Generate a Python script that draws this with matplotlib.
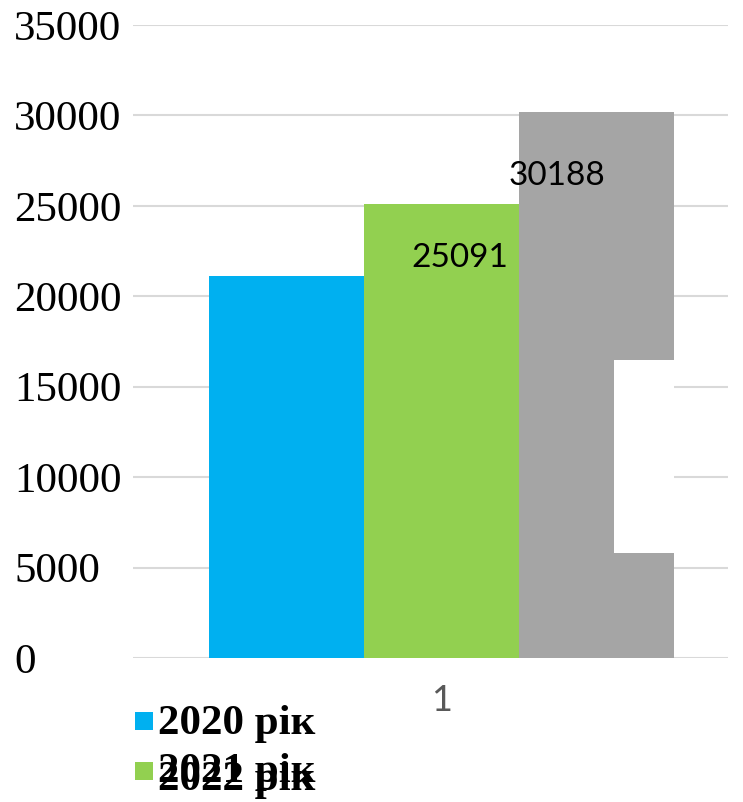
import matplotlib
matplotlib.use('Agg')
import matplotlib.pyplot as plt
from matplotlib.patches import Rectangle

# ---- data ----
categories = ['1']
series_names = ['2020 рік', '2021 рік', '2022 рік']
values = [21100, 25091, 30188]
value_labels = [None, '25091', '30188']
colors = ['#00B0F0', '#92D050', '#A5A5A5']
yticks = [0, 5000, 10000, 15000, 20000, 25000, 30000, 35000]
# white occluding box over the grey bar (value range)
occluder_range = (5800, 16470)

# ---- layout ----
W, H, DPI = 743, 802, 100
fig = plt.figure(figsize=(W / DPI, H / DPI), dpi=DPI)
ax = fig.add_axes([133 / W, 1 - 658 / H, (728 - 133) / W, (658 - 25) / H])

offsets = [-1, 0, 1]
bw = 1.0
bars = []
for off, v, c in zip(offsets, values, colors):
    b = ax.bar(off, v, width=bw, color=c, zorder=2)
    bars.append(b[0])

ax.set_xlim(-1.994, 1.852)
ax.set_ylim(0, 35000)
ax.set_yticks(yticks)
ax.set_yticklabels([str(t) for t in yticks], fontfamily='Liberation Serif', fontsize=31)
for lbl in ax.get_yticklabels():
    lbl.set_horizontalalignment('left')
ax.tick_params(axis='y', length=0, pad=119 * 72 / DPI)
ax.set_xticks([0])
ax.set_xticklabels(categories, fontfamily='Lato', fontsize=26, color='#595959')
ax.tick_params(axis='x', length=0, pad=19)
ax.grid(axis='y', color='#D9D9D9', linewidth=1.5, zorder=0)
ax.set_axisbelow(True)
for s in ax.spines.values():
    s.set_visible(False)

# white occluder on grey bar
gb = bars[2]
ax.add_patch(Rectangle((gb.get_x() + gb.get_width() * 0.615, occluder_range[0]),
                       gb.get_width() * 0.385, occluder_range[1] - occluder_range[0],
                       facecolor='white', edgecolor='none', zorder=3))

# data labels
label_offsets = [(0, 0), (18.5, -54), (-39.5, -64)]
for b, lab, (dx, dy) in zip(bars, value_labels, label_offsets):
    if lab is None:
        continue
    ax.annotate(lab, (b.get_x() + b.get_width() / 2, b.get_height()),
                xytext=(dx * 72 / DPI, dy * 72 / DPI), textcoords='offset points',
                ha='center', va='center', fontfamily='Lato', fontsize=24,
                color='black', zorder=4)

# legend (manual)
rows_y = [724, 772, 780]
marker_y = [721, 771, 771]
order = [2, 0, 1]
for i in order:
    fig.add_artist(Rectangle((135 / W, 1 - (marker_y[i] + 9) / H), 18 / W, 18 / H,
                             transform=fig.transFigure, facecolor=colors[i],
                             edgecolor='none'))
    fig.text(158 / W, 1 - rows_y[i] / H, series_names[i], fontfamily='Liberation Serif',
             fontweight='bold', fontsize=31, ha='left', va='center')

fig.savefig('out.png', dpi=DPI)
